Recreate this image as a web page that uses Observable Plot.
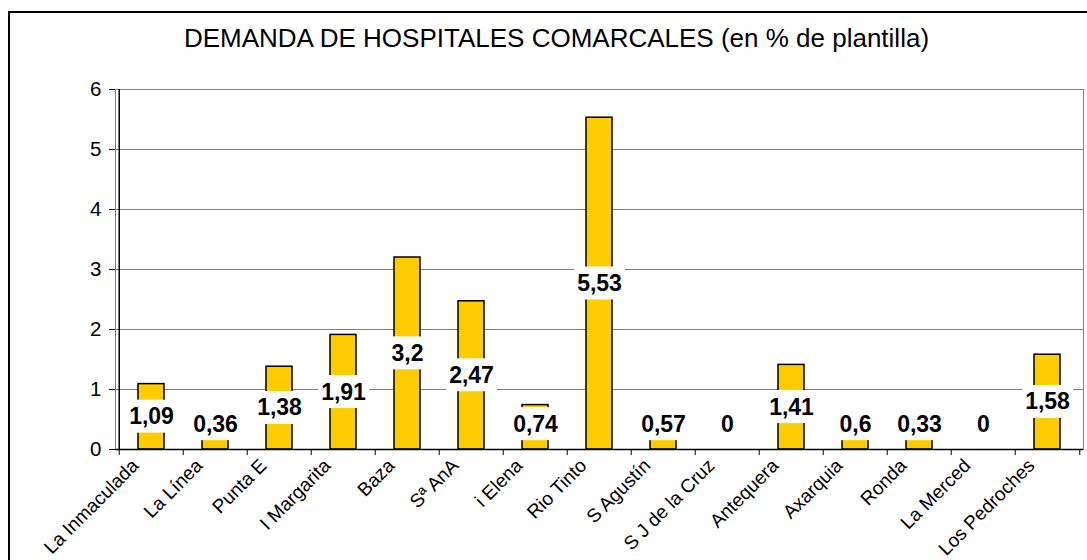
<!DOCTYPE html>
<html>
<head>
<meta charset="utf-8">
<script src="https://cdn.jsdelivr.net/npm/d3@7"></script>
<script src="https://cdn.jsdelivr.net/npm/@observablehq/plot@0.6"></script>
<style>
  html, body { margin: 0; padding: 0; background: #fff; overflow: hidden; }
  #wrap { position: relative; width: 1087px; height: 560px; overflow: hidden; }
  #border { position: absolute; left: 8px; top: 11px; width: 1200px; height: 700px; border: 2px solid #000; box-sizing: border-box; pointer-events: none; }
  #chart { position: absolute; left: 0; top: 0; }
</style>
</head>
<body>
<div id="wrap">
  <div id="chart"></div>
  <div id="border"></div>
</div>
<script>
const title = "DEMANDA DE HOSPITALES COMARCALES (en % de plantilla)";
const categories = ["La Inmaculada", "La Línea", "Punta E", "I Margarita", "Baza", "Sª AnA", "i Elena", "Rio Tinto", "S Agustín", "S J de la Cruz", "Antequera", "Axarquia", "Ronda", "La Merced", "Los Pedroches"];
const values = [1.09, 0.36, 1.38, 1.91, 3.2, 2.47, 0.74, 5.53, 0.57, 0, 1.41, 0.6, 0.33, 0, 1.58];
const yTicks = [0, 1, 2, 3, 4, 5, 6];

const data = categories.map((c, i) => ({name: c, value: values[i]}));
const W = 1087, H = 560, mL = 115, mR = 4, mT = 89, mB = 111;
const step = (W - mL - mR) / categories.length;
const font = "'Liberation Sans', Arial, sans-serif";
const fmt = v => String(v).replace(".", ",");
const hasAxisMark = typeof Plot.axisY === "function";

const yAxisMarks = hasAxisMark
  ? [Plot.axisY(yTicks, {tickSize: 6, tickPadding: 8, fontSize: 20.5, label: null, tickFormat: d => String(d), stroke: "#000", fill: "#000"})]
  : [];

const chart = Plot.plot({
  width: W, height: H,
  marginLeft: mL, marginRight: mR, marginTop: mT, marginBottom: mB,
  style: {fontFamily: font, fontSize: "20.5px", color: "#000", background: "transparent", overflow: "visible"},
  x: {domain: categories, padding: 0, axis: null},
  y: hasAxisMark
    ? {domain: [0, 6], axis: null}
    : {domain: [0, 6], ticks: yTicks, tickSize: 6, tickPadding: 8, label: null, tickFormat: d => String(d)},
  marks: [
    Plot.ruleY(yTicks, {stroke: "#808080", strokeWidth: 1}),
    Plot.frame({stroke: "#808080", strokeWidth: 1}),
    Plot.barY(data, {x: "name", y: "value", fill: "#FFCC00", stroke: "#000", strokeWidth: 1.5, insetLeft: 19, insetRight: 19}),
    ...yAxisMarks,
    Plot.ruleY([0], {stroke: "#000", strokeWidth: 1.5}),
    Plot.ruleX([0], {x: () => categories[0], y1: 0, y2: 6, dx: -step / 2, stroke: "#000", strokeWidth: 1.5}),
    Plot.ruleX(categories, {x: d => d, y1: 0, y2: -0.1, dx: -step / 2, stroke: "#000", strokeWidth: 1}),
    Plot.ruleX([categories[categories.length - 1]], {x: d => d, y1: 0, y2: -0.1, dx: step / 2, stroke: "#000", strokeWidth: 1}),
    Plot.text(data, {
      x: "name", y: d => Math.max(d.value / 2, 0.42), text: d => fmt(d.value),
      fontSize: 23, fontWeight: "bold", fill: "#000", className: "vlabel"
    }),
    Plot.text(categories, {
      x: d => d, y: 0, text: d => d, rotate: -45, textAnchor: "end",
      fontSize: 19, fill: "#000", dx: -16, dy: 13
    }),
    Plot.text([title], {
      frameAnchor: "top", text: d => d, dx: -43, dy: -61, fontSize: 26, fill: "#000"
    })
  ]
});
document.getElementById("chart").appendChild(chart);

// white rectangular backgrounds behind the value labels
const svgNS = "http://www.w3.org/2000/svg";
let labelGroup = chart.querySelector("g.vlabel");
if (!labelGroup) labelGroup = chart.querySelectorAll('g[aria-label="text"]')[0];
if (labelGroup) {
  labelGroup.querySelectorAll("text").forEach(t => {
    const b = t.getBBox();
    const r = document.createElementNS(svgNS, "rect");
    r.setAttribute("x", b.x - 3);
    r.setAttribute("y", b.y - 3.5);
    r.setAttribute("width", b.width + 6);
    r.setAttribute("height", b.height + 7);
    r.setAttribute("fill", "#fff");
    r.setAttribute("stroke", "none");
    if (t.getAttribute("transform")) r.setAttribute("transform", t.getAttribute("transform"));
    t.parentNode.insertBefore(r, t);
  });
}
</script>
</body>
</html>
